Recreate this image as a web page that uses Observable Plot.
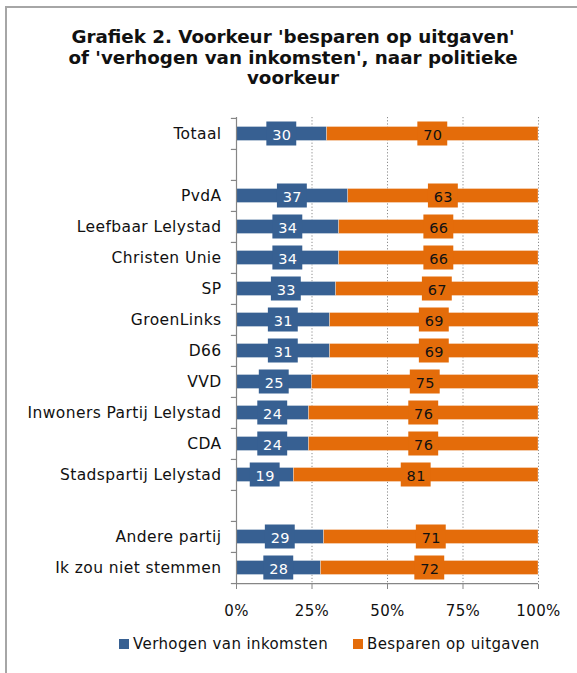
<!DOCTYPE html>
<html>
<head>
<meta charset="utf-8">
<script src="https://cdn.jsdelivr.net/npm/d3@7"></script>
<script src="https://cdn.jsdelivr.net/npm/@observablehq/plot@0.6"></script>
<style>
  body { margin: 0; background: #fff; font-family: "DejaVu Sans", sans-serif; }
  #frame { position: absolute; left: 5px; top: 6px; width: 700px; height: 800px;
           border-left: 2px solid #a6a6a6; border-top: 2px solid #a6a6a6; }
  #title { position: absolute; left: 6px; width: 574px; top: 27px; text-align: center;
           font-weight: bold; font-size: 18.3px; line-height: 20.5px; color: #111; }
  #chart { position: absolute; left: 0; top: 100px; }
  #legend { position: absolute; top: 635px; left: 0; width: 577px; font-size: 15px; letter-spacing: 0.4px; color: #111; }
  .item { position: absolute; top: 0; white-space: nowrap; }
  .sw { display: inline-block; width: 10px; height: 10px; margin-right: 4px; vertical-align: 0px; }
  #chart svg text { letter-spacing: 0.4px; }
</style>
</head>
<body>
<div id="frame"></div>
<div id="title">Grafiek 2. Voorkeur 'besparen op uitgaven'<br>of 'verhogen van inkomsten', naar politieke<br>voorkeur</div>
<div id="chart"></div>
<div id="legend"></div>
<script>
const categories = ["Totaal", " ", "PvdA", "Leefbaar Lelystad", "Christen Unie", "SP", "GroenLinks", "D66", "VVD", "Inwoners Partij Lelystad", "CDA", "Stadspartij Lelystad", "  ", "Andere partij", "Ik zou niet stemmen"];
const groups = ["Totaal", "PvdA", "Leefbaar Lelystad", "Christen Unie", "SP", "GroenLinks", "D66", "VVD", "Inwoners Partij Lelystad", "CDA", "Stadspartij Lelystad", "Andere partij", "Ik zou niet stemmen"];
const verhogen = [30, 37, 34, 34, 33, 31, 31, 25, 24, 24, 19, 29, 28];
const besparen = [70, 63, 66, 66, 67, 69, 69, 75, 76, 76, 81, 71, 72];
const seriesNames = ["Verhogen van inkomsten", "Besparen op uitgaven"];
const colors = ["#376092", "#E46C0A"];
const xTicks = [0, 25, 50, 75, 100];

const rows = [];
groups.forEach((g, i) => {
  rows.push({cat: g, series: seriesNames[0], x1: 0, x2: verhogen[i], value: verhogen[i]});
  rows.push({cat: g, series: seriesNames[1], x1: verhogen[i], x2: verhogen[i] + besparen[i], value: besparen[i]});
});
rows.forEach(d => d.mid = (d.x1 + d.x2) / 2);

const plotH = 467;
const step = plotH / categories.length;
const halfBox = 4.95;

const chart = Plot.plot({
  width: 577,
  height: 17 + plotH + 40,
  marginLeft: 236,
  marginRight: 39,
  marginTop: 17,
  marginBottom: 40,
  style: {fontFamily: "DejaVu Sans, sans-serif", background: "transparent"},
  x: {domain: [0, 100], label: null},
  y: {domain: categories, padding: 0, label: null},
  color: {domain: seriesNames, range: colors},
  marks: [
    Plot.ruleX([25, 50, 75, 100], {stroke: "#8c8c8c", strokeDasharray: "1.2,2", strokeWidth: 1}),
    Plot.barX(rows, {x1: "x1", x2: "x2", y: "cat", fill: "series", insetTop: 8.5, insetBottom: 8.5, stroke: "#ffffff", strokeOpacity: 0.5, strokeWidth: 0.6}),
    Plot.barX(rows, {x1: d => d.mid - halfBox, x2: d => d.mid + halfBox, y: "cat", fill: "series", insetTop: 3.5, insetBottom: 3.5}),
    Plot.text(rows, {x: "mid", y: "cat", text: d => String(d.value), fill: d => d.series === seriesNames[0] ? "#ffffff" : "#111111", fontSize: 14.5, dy: 1}),
    Plot.ruleX([0], {stroke: "#868686", strokeWidth: 1.2}),
    Plot.ruleY(categories, {y: d => d, x1: 0, x2: 100, dy: step / 2, filter: (d, i) => i === categories.length - 1, stroke: "#868686", strokeWidth: 1.2}),
    Plot.ruleY(categories, {y: d => d, x1: -1.7, x2: 0, dy: -step / 2, stroke: "#868686", strokeWidth: 1.2}),
    Plot.ruleY([categories[categories.length - 1]], {y: d => d, x1: -1.7, x2: 0, dy: step / 2, stroke: "#868686", strokeWidth: 1.2}),
    Plot.axisY({tickSize: 0, tickPadding: 15, fontSize: 15.5, tickFormat: d => d.trim(), color: "#111", label: null}),
    Plot.axisX(xTicks, {tickSize: 5, tickPadding: 16, fontSize: 15, tickFormat: d => d + "%", stroke: "#868686", color: "#111", label: null})
  ]
});
document.getElementById("chart").appendChild(chart);

const legend = document.getElementById("legend");
const lx = [119, 353];
seriesNames.forEach((s, i) => {
  const it = document.createElement("div");
  it.className = "item";
  it.style.left = lx[i] + "px";
  it.innerHTML = `<span class="sw" style="background:${colors[i]}"></span>${s}`;
  legend.appendChild(it);
});
</script>
</body>
</html>
